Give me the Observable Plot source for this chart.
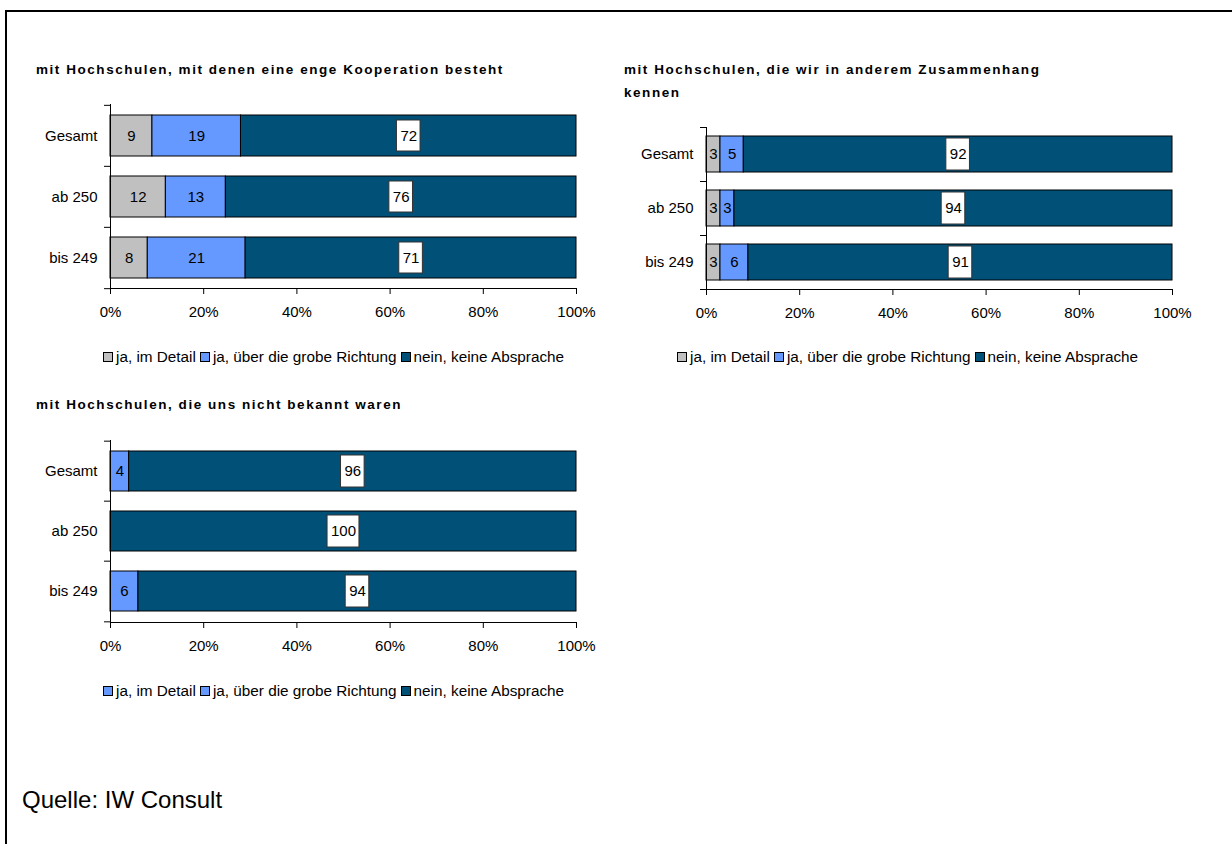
<!DOCTYPE html>
<html>
<head>
<meta charset="utf-8">
<script src="https://cdn.jsdelivr.net/npm/d3@7"></script>
<script src="https://cdn.jsdelivr.net/npm/@observablehq/plot@0.6"></script>
<style>
  html, body { margin: 0; padding: 0; background: #fff; overflow: hidden; }
  #root { position: relative; width: 1232px; height: 844px; font-family: "Liberation Sans", Arial, sans-serif; color: #000; overflow: hidden; }
  #frame { position: absolute; left: 5px; top: 10px; width: 1400px; height: 1000px; border: 2px solid #000; box-sizing: border-box; }
  .title { position: absolute; font-weight: bold; font-size: 13.5px; letter-spacing: 1.55px; line-height: 23px; }
  .legend { position: absolute; font-size: 15.3px; display: flex; align-items: center; white-space: nowrap; }
  .legend .sw { display: inline-block; width: 8px; height: 8px; border: 1px solid #000; margin: 0 3px 0 4px; }
  .legend .sw:first-child { margin-left: 0; }
  .chart { position: absolute; }
  #source { position: absolute; left: 22px; top: 786px; font-size: 24px; }
</style>
</head>
<body>
<div id="root">
  <div id="frame"></div>
  <div class="title" id="t1" style="left:36px; top:58px;"></div>
  <div class="title" id="t2" style="left:624px; top:58px;"></div>
  <div class="title" id="t3" style="left:36px; top:393px;"></div>
  <div class="chart" id="c1" style="left:0px; top:0px;"></div>
  <div class="chart" id="c2" style="left:596px; top:0px;"></div>
  <div class="chart" id="c3" style="left:0px; top:334px;"></div>
  <div class="legend" id="l1" style="left:103px; top:348px;"></div>
  <div class="legend" id="l2" style="left:677px; top:348px;"></div>
  <div class="legend" id="l3" style="left:103px; top:682px;"></div>
  <div id="source">Quelle: IW Consult</div>
</div>
<script>
// ---- data ----
const categories = ["Gesamt", "ab 250", "bis 249"];
const seriesNames = ["ja, im Detail", "ja, über die grobe Richtung", "nein, keine Absprache"];
const seriesColors = ["#C0C0C0", "#6699FF", "#005078"];
const legend3Colors = ["#6699FF", "#6699FF", "#005078"];
const xTicks = [0, 0.2, 0.4, 0.6, 0.8, 1];

const titles = [
  "mit Hochschulen, mit denen eine enge Kooperation besteht",
  "mit Hochschulen, die wir in anderem Zusammenhang<br>kennen",
  "mit Hochschulen, die uns nicht bekannt waren"
];

const chart1Detail = [9, 12, 8];
const chart1Grob   = [19, 13, 21];
const chart1Nein   = [72, 76, 71];

const chart2Detail = [3, 3, 3];
const chart2Grob   = [5, 3, 6];
const chart2Nein   = [92, 94, 91];

const chart3Detail = [0, 0, 0];
const chart3Grob   = [4, 0, 6];
const chart3Nein   = [96, 100, 94];

// ---- helpers ----
function toRows(detail, grob, nein) {
  const rows = [];
  categories.forEach((c, i) => {
    [detail[i], grob[i], nein[i]].forEach((v, s) => {
      rows.push({cat: c, series: seriesNames[s], value: v, s});
    });
  });
  return rows;
}

const W = 620, H = 330, ML = 110, MR = 44;
const plotW = W - ML - MR;

function makeChart(detail, grob, nein, mt, mb, boxInset) {
  const rows = toRows(detail, grob, nein);
  const step = (H - mt - mb) / categories.length;
  const tickFrac = 6 / plotW;
  // white label boxes for the last series, centered in its segment
  const boxes = categories.map((c, i) => {
    const total = detail[i] + grob[i] + nein[i];
    const start = (detail[i] + grob[i]) / total;
    const mid = (start + 1) / 2;
    const half = (String(nein[i]).length * 8.3 + 7) / 2 / plotW;
    return {cat: c, x1: mid - half, x2: mid + half};
  });
  return Plot.plot({
    width: W, height: H,
    marginLeft: ML, marginRight: MR, marginTop: mt, marginBottom: mb,
    style: {fontFamily: "'Liberation Sans', Arial, sans-serif", fontSize: "15px", background: "transparent", overflow: "visible", color: "#000"},
    x: {domain: [0, 1]},
    y: {domain: categories, paddingInner: 0.33, paddingOuter: 0.165},
    color: {domain: seriesNames, range: seriesColors},
    marks: [
      Plot.barX(rows, Plot.stackX({x: "value", y: "cat", fill: "series", stroke: "#000", strokeWidth: 1, offset: "normalize"})),
      Plot.barX(boxes, {x1: "x1", x2: "x2", y: "cat", fill: "#fff", stroke: "#333", strokeWidth: 1, insetTop: boxInset, insetBottom: boxInset}),
      Plot.text(rows, Plot.stackX({x: "value", y: "cat", offset: "normalize", text: d => d.value > 0 ? String(d.value) : "", fill: "#000", fontSize: 15})),
      Plot.ruleX([0], {stroke: "#000", strokeWidth: 1}),
      Plot.frame({anchor: "bottom", stroke: "#000", strokeWidth: 1}),
      Plot.ruleY(categories, {y: d => d, x1: -tickFrac, x2: 0, dy: -step / 2, stroke: "#000"}),
      Plot.ruleY([categories[categories.length - 1]], {y: d => d, x1: -tickFrac, x2: 0, dy: step / 2, stroke: "#000"}),
      Plot.axisX({ticks: xTicks, tickFormat: d3.format(".0%"), tickSize: 6, tickPadding: 12, label: null, fontSize: 15}),
      Plot.axisY({tickSize: 0, tickPadding: 13, label: null, fontSize: 15})
    ]
  });
}

function makeLegend(el, colors) {
  el.innerHTML = seriesNames.map((n, i) =>
    `<span class="sw" style="background:${colors[i]}"></span><span>${n}</span>`).join("");
}

document.getElementById("t1").innerHTML = titles[0];
document.getElementById("t2").innerHTML = titles[1];
document.getElementById("t3").innerHTML = titles[2];

document.getElementById("c1").appendChild(makeChart(chart1Detail, chart1Grob, chart1Nein, 104, 42, 5));
document.getElementById("c2").appendChild(makeChart(chart2Detail, chart2Grob, chart2Nein, 127, 41, 2));
document.getElementById("c3").appendChild(makeChart(chart3Detail, chart3Grob, chart3Nein, 106, 42, 4));

makeLegend(document.getElementById("l1"), seriesColors);
makeLegend(document.getElementById("l2"), seriesColors);
makeLegend(document.getElementById("l3"), legend3Colors);
</script>
</body>
</html>
